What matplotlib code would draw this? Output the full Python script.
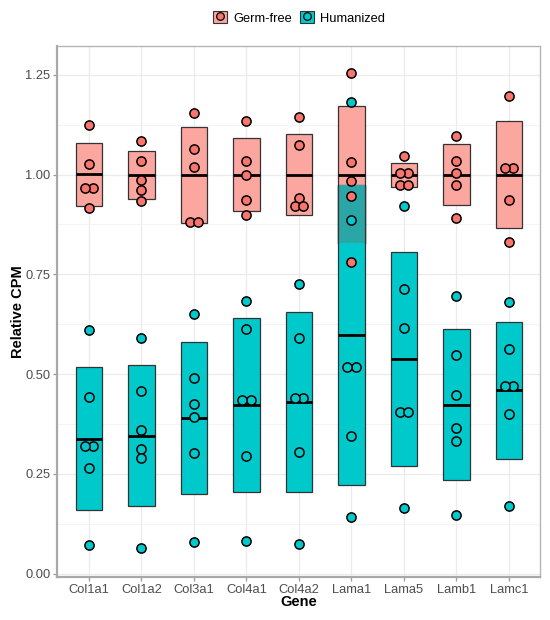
import matplotlib
matplotlib.use("Agg")
import matplotlib.pyplot as plt
from matplotlib.patches import Rectangle, Patch
from matplotlib.lines import Line2D
from matplotlib.legend_handler import HandlerTuple
import numpy as np

plt.rcParams['font.family'] = ['Liberation Sans', 'DejaVu Sans']

genes = ['Col1a1', 'Col1a2', 'Col3a1', 'Col4a1', 'Col4a2',
         'Lama1', 'Lama5', 'Lamb1', 'Lamc1']

# relative CPM per mouse
germ_free = [
    [1.124, 1.026, 0.967, 0.967, 0.917],
    [1.084, 1.035, 0.987, 0.961, 0.933],
    [1.155, 1.064, 1.019, 0.880, 0.880],
    [1.135, 1.033, 0.998, 0.936, 0.898],
    [1.143, 1.073, 0.942, 0.921, 0.921],
    [1.255, 1.032, 0.983, 0.947, 0.781],
    [1.046, 1.003, 1.003, 0.973, 0.973],
    [1.096, 1.034, 1.005, 0.973, 0.891],
    [1.197, 1.017, 1.017, 0.937, 0.832],
]
humanized = [
    [0.610, 0.444, 0.320, 0.320, 0.266, 0.073],
    [0.590, 0.458, 0.360, 0.313, 0.289, 0.065],
    [0.650, 0.491, 0.426, 0.393, 0.302, 0.080],
    [0.683, 0.612, 0.436, 0.436, 0.294, 0.081],
    [0.727, 0.590, 0.441, 0.441, 0.306, 0.075],
    [1.182, 0.885, 0.518, 0.518, 0.345, 0.142],
    [0.922, 0.714, 0.616, 0.405, 0.405, 0.164],
    [0.697, 0.549, 0.449, 0.365, 0.332, 0.148],
    [0.681, 0.564, 0.470, 0.470, 0.401, 0.171],
]

groups = ['Germ-free', 'Humanized']
point_colors = {'Germ-free': '#F8766D', 'Humanized': '#00C9CC'}
box_colors = {'Germ-free': '#FCA6A0', 'Humanized': '#00C9CC'}
overlap_color = '#2BA6A6'
box_width = 0.5
dot_step = 0.16


def dot_offsets(vals, tol=0.012):
    """centre dots that share (nearly) the same value side by side"""
    vals = np.asarray(vals)
    order = np.argsort(vals)
    offs = np.zeros(len(vals))
    clusters = [[order[0]]]
    for i in order[1:]:
        if vals[i] - vals[clusters[-1][-1]] < tol:
            clusters[-1].append(i)
        else:
            clusters.append([i])
    for c in clusters:
        n = len(c)
        for k, idx in enumerate(c):
            offs[idx] = (k - (n - 1) / 2) * dot_step
    return offs


fig = plt.figure(figsize=(5.5, 6.2), dpi=100)
ax = fig.add_axes([0.1045, 0.0694, 0.878, 0.857])

data = {'Germ-free': germ_free, 'Humanized': humanized}
stats = {}
for g in groups:
    m = np.array([np.mean(v) for v in data[g]])
    s = np.array([np.std(v, ddof=1) for v in data[g]])
    stats[g] = (m, s)

x = np.arange(1, len(genes) + 1)

# crossbars: mean +/- SD
for g in groups:
    m, s = stats[g]
    for xi, mi, si in zip(x, m, s):
        ax.add_patch(Rectangle((xi - box_width / 2, mi - si), box_width, 2 * si,
                               facecolor=box_colors[g], edgecolor='#333333',
                               linewidth=0.9, zorder=2))

# where the two boxes overlap
mg, sg = stats['Germ-free']
mh, sh = stats['Humanized']
for xi, a, b, c, d in zip(x, mg - sg, mg + sg, mh - sh, mh + sh):
    lo, hi = max(a, c), min(b, d)
    if hi > lo:
        ax.add_patch(Rectangle((xi - box_width / 2, lo), box_width, hi - lo,
                               facecolor=overlap_color, edgecolor='none',
                               zorder=2.5))
        ax.plot([xi - box_width / 2, xi - box_width / 2], [lo, hi],
                color='#333333', linewidth=0.9, zorder=2.6)
        ax.plot([xi + box_width / 2, xi + box_width / 2], [lo, hi],
                color='#333333', linewidth=0.9, zorder=2.6)

for g in groups:
    m, s = stats[g]
    for xi, mi in zip(x, m):
        ax.plot([xi - box_width / 2, xi + box_width / 2], [mi, mi],
                color='black', linewidth=2.0, solid_capstyle='butt', zorder=3)

# individual mice
for g in groups:
    for xi, vals in zip(x, data[g]):
        offs = dot_offsets(vals)
        ax.scatter(xi + offs, vals, s=44, facecolor=point_colors[g],
                   edgecolor='black', linewidth=1.1, zorder=4)

ax.set_xlim(0.4, len(genes) + 0.6)
ax.set_ylim(-0.008, 1.323)
ax.set_xticks(x)
ax.set_xticklabels(genes)
ax.set_yticks([0, 0.25, 0.5, 0.75, 1.0, 1.25])
ax.set_yticklabels(['0.00', '0.25', '0.50', '0.75', '1.00', '1.25'])
ax.set_yticks(np.arange(0.125, 1.3, 0.25), minor=True)

ax.grid(True, which='major', color='#EBEBEB', linewidth=0.9, zorder=0)
ax.grid(True, which='minor', axis='y', color='#F2F2F2', linewidth=0.6, zorder=0)
ax.set_axisbelow(True)
ax.tick_params(axis='both', which='major', labelsize=9.3, labelcolor='#4D4D4D',
               color='#9A9A9A', length=3, width=0.9, pad=2)
ax.tick_params(axis='y', which='minor', length=0)
for side in ['top', 'right']:
    ax.spines[side].set_color('#B5B5B5')
    ax.spines[side].set_linewidth(1.0)
for side in ['left', 'bottom']:
    ax.spines[side].set_color('#A8A8A8')
    ax.spines[side].set_linewidth(1.6)

ax.set_xlabel('Gene', fontsize=10.5, fontweight='bold', labelpad=-1)
ax.set_ylabel('Relative CPM', fontsize=10.5, fontweight='bold', labelpad=0)

handles = []
for g in groups:
    box = Patch(facecolor=box_colors[g], edgecolor='#333333', linewidth=0.8)
    dot = Line2D([], [], marker='o', linestyle='None', markersize=5.5,
                 markerfacecolor=point_colors[g], markeredgecolor='black',
                 markeredgewidth=0.9)
    handles.append((box, dot))
ax.legend(handles, groups, handler_map={tuple: HandlerTuple(ndivide=1)},
          loc='lower center', bbox_to_anchor=(0.5, 1.03), ncol=2,
          frameon=False, fontsize=9.3, handlelength=1.1, handleheight=1.1,
          handletextpad=0.5, columnspacing=0.6, borderaxespad=0)

fig.savefig('out.png', dpi=100)
